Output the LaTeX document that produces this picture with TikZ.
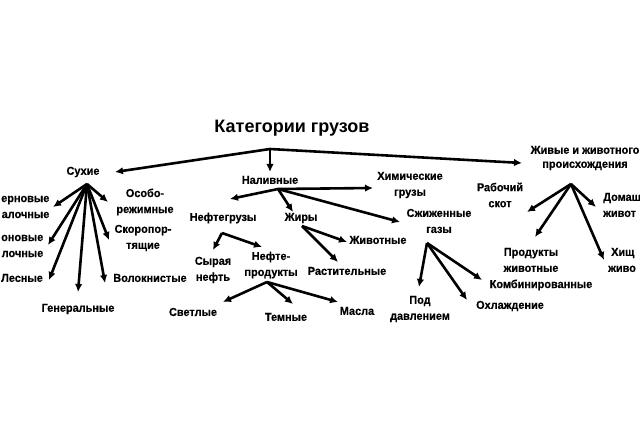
\documentclass[tikz,border=0pt]{standalone}
\usepackage{fontspec}
\setmainfont{Liberation Sans}
\newfontfamily\narrowfont[FakeStretch=0.95, BoldFeatures={FakeBold=0.4}]{Liberation Sans}
\usepackage{tikz}
\usetikzlibrary{arrows.meta}

\begin{document}
\begin{tikzpicture}[x=1pt, y=-1pt,
    lbl/.style={font=\narrowfont\bfseries\fontsize{11.5}{16}\selectfont, align=center, inner sep=1pt},
    arr/.style={line width=2.6pt, -{Latex[length=8pt,width=7.5pt]}}]
    \useasboundingbox (0,0) rectangle (640,435);

    % Title
    \node[font=\bfseries\fontsize{18}{20}\selectfont] (title) at (292,128) {Категории грузов};
    \coordinate (root) at (270,149);

    % Main groups
    \node[lbl] (suhie) at (83,172) {Сухие};
    \node[lbl] (naliv) at (270,180) {Наливные};
    \node[lbl, font=\narrowfont\bfseries\fontsize{11.5}{14}\selectfont] (zhivye) at (585,158) {Живые и животного\\происхождения};
    \coordinate (suhieIn) at (115,172);
    \coordinate (nalivIn) at (270,172);
    \coordinate (zhivyeIn) at (522,163);
    \draw[arr] (root) -- (suhieIn);
    \draw[arr] (root) -- (nalivIn);
    \draw[arr] (root) -- (zhivyeIn);

    % Dry cargo
    \coordinate (sH) at (87,184);
    \node[lbl, anchor=west, align=right] (zern) at (0,207) {ерновые\\алочные};
    \node[lbl, anchor=west, align=right] (oon) at (0,246) {оновые\\лочные};
    \node[lbl, anchor=west] (les) at (0,278) {Лесные};
    \node[lbl] (gen) at (78,309) {Генеральные};
    \node[lbl] (volok) at (150,278) {Волокнистые};
    \node[lbl] (skoro) at (143,238) {Скоропор-\\тящие};
    \node[lbl] (osobo) at (145,202) {Особо-\\режимные};
    \foreach \name/\x/\y in {zern/53/207, oon/48/245, les/49/280, gen/78/292,
                             volok/105/283, skoro/109/240, osobo/108/202} {
        \coordinate (\name In) at (\x,\y);
        \draw[arr] (sH) -- (\name In);
    }

    % Liquid cargo
    \coordinate (nH) at (278,189);
    \node[lbl] (neftegr) at (223,218) {Нефтегрузы};
    \node[lbl] (zhiry) at (301,218) {Жиры};
    \node[lbl] (himich) at (410,185) {Химические\\грузы};
    \node[lbl] (szhizh) at (439,221) {Сжиженные\\газы};
    \foreach \name/\x/\y in {neftegr/230/199, zhiry/293/212, himich/373/188, szhizh/400/222} {
        \coordinate (\name In) at (\x,\y);
        \draw[arr] (nH) -- (\name In);
    }

    % Oil cargo
    \coordinate (nfH) at (222,233);
    \node[lbl] (syraya) at (213,270) {Сырая\\нефть};
    \node[lbl] (nefteprod) at (271,265) {Нефте-\\продукты};
    \coordinate (syrayaIn) at (213,250);
    \coordinate (nefteprodIn) at (262,247);
    \draw[arr] (nfH) -- (syrayaIn);
    \draw[arr] (nfH) -- (nefteprodIn);

    \coordinate (npH) at (267,282);
    \node[lbl] (svetl) at (193,312) {Светлые};
    \node[lbl] (temn) at (286,317) {Темные};
    \node[lbl] (masla) at (357,311) {Масла};
    \foreach \name/\x/\y in {svetl/223/302, temn/293/304, masla/338/302} {
        \coordinate (\name In) at (\x,\y);
        \draw[arr] (npH) -- (\name In);
    }

    % Fats
    \coordinate (zhH) at (302,226);
    \node[lbl] (zhivotn) at (378,240) {Животные};
    \node[lbl] (rastit) at (347,271) {Растительные};
    \coordinate (zhivotnIn) at (347,242);
    \coordinate (rastitIn) at (338,262);
    \draw[arr] (zhH) -- (zhivotnIn);
    \draw[arr] (zhH) -- (rastitIn);

    % Liquefied gases
    \coordinate (sgH) at (427,243);
    \node[lbl] (pod) at (420,309) {Под\\давлением};
    \node[lbl] (ohlazh) at (510,306) {Охлаждение};
    \node[lbl] (kombin) at (541,285) {Комбинированные};
    \foreach \name/\x/\y in {pod/419/287, ohlazh/467/300, kombin/482/280} {
        \coordinate (\name In) at (\x,\y);
        \draw[arr] (sgH) -- (\name In);
    }

    % Live cargo
    \coordinate (zvH) at (571,184);
    \node[lbl] (rabochiy) at (500,195) {Рабочий\\скот};
    \node[lbl] (produkty) at (531,260) {Продукты\\животные};
    \node[lbl, anchor=west, align=left] (domash) at (602,205) {Домаш\\живот};
    \node[lbl, anchor=west, align=left] (hishch) at (607,260) {\hspace{3pt}Хищ\\живо};
    \foreach \name/\x/\y in {rabochiy/527/212, produkty/535/237, domash/596/207, hishch/604/260} {
        \coordinate (\name In) at (\x,\y);
        \draw[arr] (zvH) -- (\name In);
    }
\end{tikzpicture}
\end{document}
